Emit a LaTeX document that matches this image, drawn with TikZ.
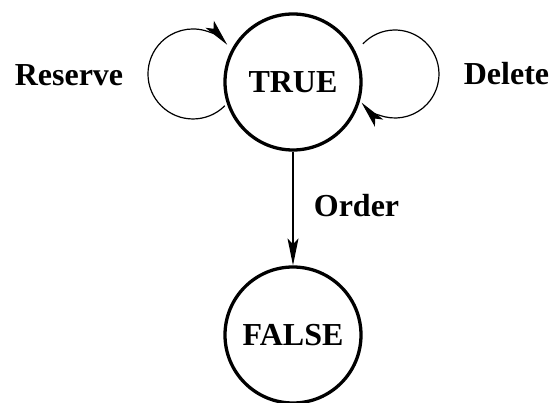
\documentclass[tikz,border=0pt]{standalone}
\usepackage{fontspec}
\setmainfont{Liberation Serif}
\usetikzlibrary{arrows.meta}
\begin{document}
\begin{tikzpicture}[x=1pt,y=1pt,
  state/.style={circle,draw,line width=3.3pt,minimum size=136pt,inner sep=0pt,
    font=\fontsize{32}{38}\selectfont\bfseries},
  lbl/.style={anchor=base,inner sep=0pt,font=\fontsize{32}{38}\selectfont\bfseries},
  conn/.style={line width=1.2pt,-{Stealth[length=27pt,width=11pt,inset=6pt]}}]
\useasboundingbox (0,0) rectangle (553,403);
\node[state] (T) at (293,321) {TRUE};
\node[state] (F) at (293,68) {FALSE};
\draw[conn] (T.south) -- (F.north);
\coordinate (ls) at (224.8,297.2);
\coordinate (rs) at (362.9,359.1);
\draw[conn] (ls) arc[start angle=-45,end angle=-319.5,radius=45];
\draw[conn] (rs) arc[start angle=136.8,end angle=-139.5,radius=44];
\node[lbl] (res) at (69,317) {Reserve};
\node[lbl] (del) at (506.5,318) {Delete};
\node[lbl] (ord) at (356.5,186) {Order};
\end{tikzpicture}
\end{document}
